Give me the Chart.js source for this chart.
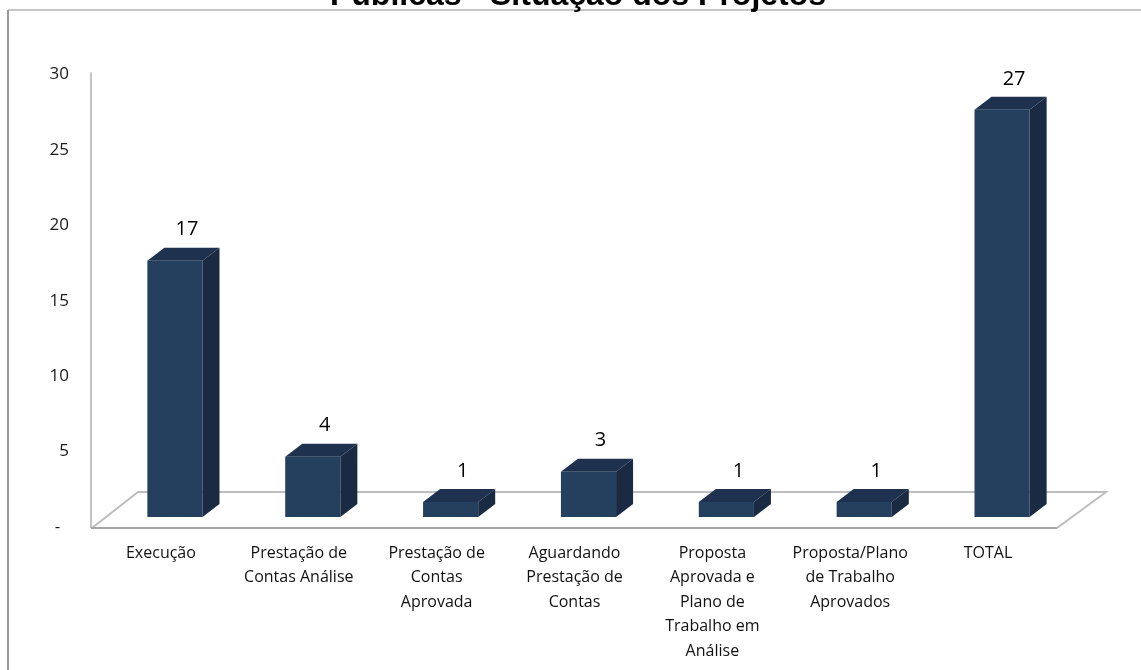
<!DOCTYPE html>
<html>
<head>
<meta charset="utf-8">
<script src="https://cdn.jsdelivr.net/npm/chart.js@4.4.1/dist/chart.umd.min.js"></script>
<style>
    html, body { margin: 0; padding: 0; background: #fff; }
    canvas { display: block; }
</style>
</head>
<body>
<canvas id="myChart" width="1141" height="670"></canvas>
<script>
// Data
const chartTitle = "Públicas - Situação dos Projetos";
const categories = [
    ["Execução"],
    ["Prestação de", "Contas Análise"],
    ["Prestação de", "Contas", "Aprovada"],
    ["Aguardando", "Prestação de", "Contas"],
    ["Proposta", "Aprovada e", "Plano de", "Trabalho em", "Análise"],
    ["Proposta/Plano", "de Trabalho", "Aprovados"],
    ["TOTAL"]
];
const values = [17, 4, 1, 3, 1, 1, 27];
const yTicks = [0, 5, 10, 15, 20, 25, 30];

const FONT = "'Open Sans', sans-serif";
const colFront = '#25405f';
const colTop = '#1e3250';
const colSide = '#192a42';

// 3D look: offset of the bar depth
const depth = { dx: 17, dy: -13 };

function poly(ctx, pts, fill) {
    ctx.beginPath();
    ctx.moveTo(pts[0][0], pts[0][1]);
    for (let i = 1; i < pts.length; i++) ctx.lineTo(pts[i][0], pts[i][1]);
    ctx.closePath();
    ctx.fillStyle = fill;
    ctx.fill();
}

const box3d = {
    id: 'box3d',
    beforeDraw(chart) {
        const ctx = chart.ctx;
        ctx.save();
        // frame
        ctx.lineWidth = 2;
        ctx.strokeStyle = '#c8c8c8';
        ctx.beginPath();
        ctx.moveTo(8, 10);
        ctx.lineTo(1141, 10);
        ctx.stroke();
        ctx.strokeStyle = '#9a9a9a';
        ctx.beginPath();
        ctx.moveTo(8, 10);
        ctx.lineTo(8, 670);
        ctx.stroke();
        // title (cut off at the top)
        ctx.fillStyle = '#000';
        ctx.font = "bold 32px 'Liberation Sans', sans-serif";
        ctx.textAlign = 'center';
        ctx.textBaseline = 'alphabetic';
        ctx.fillText(chartTitle, 578, 5);
        ctx.restore();
    },
    beforeDatasetsDraw(chart) {
        const ctx = chart.ctx;
        const a = chart.chartArea;
        const y = chart.scales.y;
        ctx.save();
        ctx.lineWidth = 2;
        // wall edge
        ctx.strokeStyle = '#c4c4c4';
        ctx.beginPath();
        ctx.moveTo(a.left - 15, y.getPixelForValue(30) + 8);
        ctx.lineTo(a.left - 15, a.bottom + 11);
        ctx.stroke();
        // floor
        ctx.strokeStyle = '#bdbdbd';
        ctx.beginPath();
        ctx.moveTo(a.left - 14, a.bottom + 11);
        ctx.lineTo(a.left + 32, a.bottom - 25);
        ctx.lineTo(a.right + 35, a.bottom - 25);
        ctx.lineTo(a.right - 14, a.bottom + 11);
        ctx.stroke();
        ctx.strokeStyle = '#a6a6a6';
        ctx.beginPath();
        ctx.moveTo(a.left - 15, a.bottom + 11);
        ctx.lineTo(a.right - 14, a.bottom + 11);
        ctx.stroke();
        ctx.restore();
    },
    afterDatasetsDraw(chart) {
        const ctx = chart.ctx;
        const meta = chart.getDatasetMeta(0);
        ctx.save();
        meta.data.forEach((bar, i) => {
            const l = bar.x - bar.width / 2;
            const r = bar.x + bar.width / 2;
            const t = bar.y;
            const b = bar.base;
            // top face
            poly(ctx, [[l, t], [l + depth.dx, t + depth.dy], [r + depth.dx, t + depth.dy], [r, t]], colTop);
            // side face
            poly(ctx, [[r, t], [r + depth.dx, t + depth.dy], [r + depth.dx, b + depth.dy], [r, b]], colSide);
            // value label
            ctx.fillStyle = '#000';
            ctx.font = "20px " + FONT;
            ctx.textAlign = 'center';
            ctx.textBaseline = 'middle';
            ctx.fillText(String(values[i]), bar.x + 12, t - 31);
        });
        ctx.restore();
    }
};

const ctx = document.getElementById('myChart');
const chart = new Chart(ctx, {
    type: 'bar',
    data: {
        labels: categories,
        datasets: [{
            data: values,
            backgroundColor: colFront,
            borderWidth: 0,
            categoryPercentage: 1,
            barPercentage: 0.4
        }]
    },
    options: {
        responsive: false,
        animation: false,
        layout: {
            padding: { left: 0, right: 70, top: 64.6, bottom: 0 }
        },
        plugins: {
            legend: { display: false },
            title: { display: false },
            tooltip: { enabled: false }
        },
        scales: {
            x: {
                grid: { display: false, drawTicks: false },
                border: { display: false },
                ticks: {
                    color: '#111',
                    font: { family: FONT, size: 16, lineHeight: 1.53 },
                    padding: 24,
                    labelOffset: -14,
                    maxRotation: 0,
                    autoSkip: false
                },
                afterFit(scale) { scale.height = 153; }
            },
            y: {
                min: 0,
                max: 30,
                afterBuildTicks(scale) {
                    scale.ticks = yTicks.map(v => ({ value: v }));
                },
                grid: { display: false, drawTicks: false },
                border: { display: false },
                ticks: {
                    color: '#1a1a1a',
                    font: { family: FONT, size: 17 },
                    padding: 37,
                    labelOffset: 10,
                    callback: v => (v === 0 ? '-  ' : String(v))
                },
                afterFit(scale) { scale.width = 106; }
            }
        }
    },
    plugins: [box3d]
});
</script>
</body>
</html>
